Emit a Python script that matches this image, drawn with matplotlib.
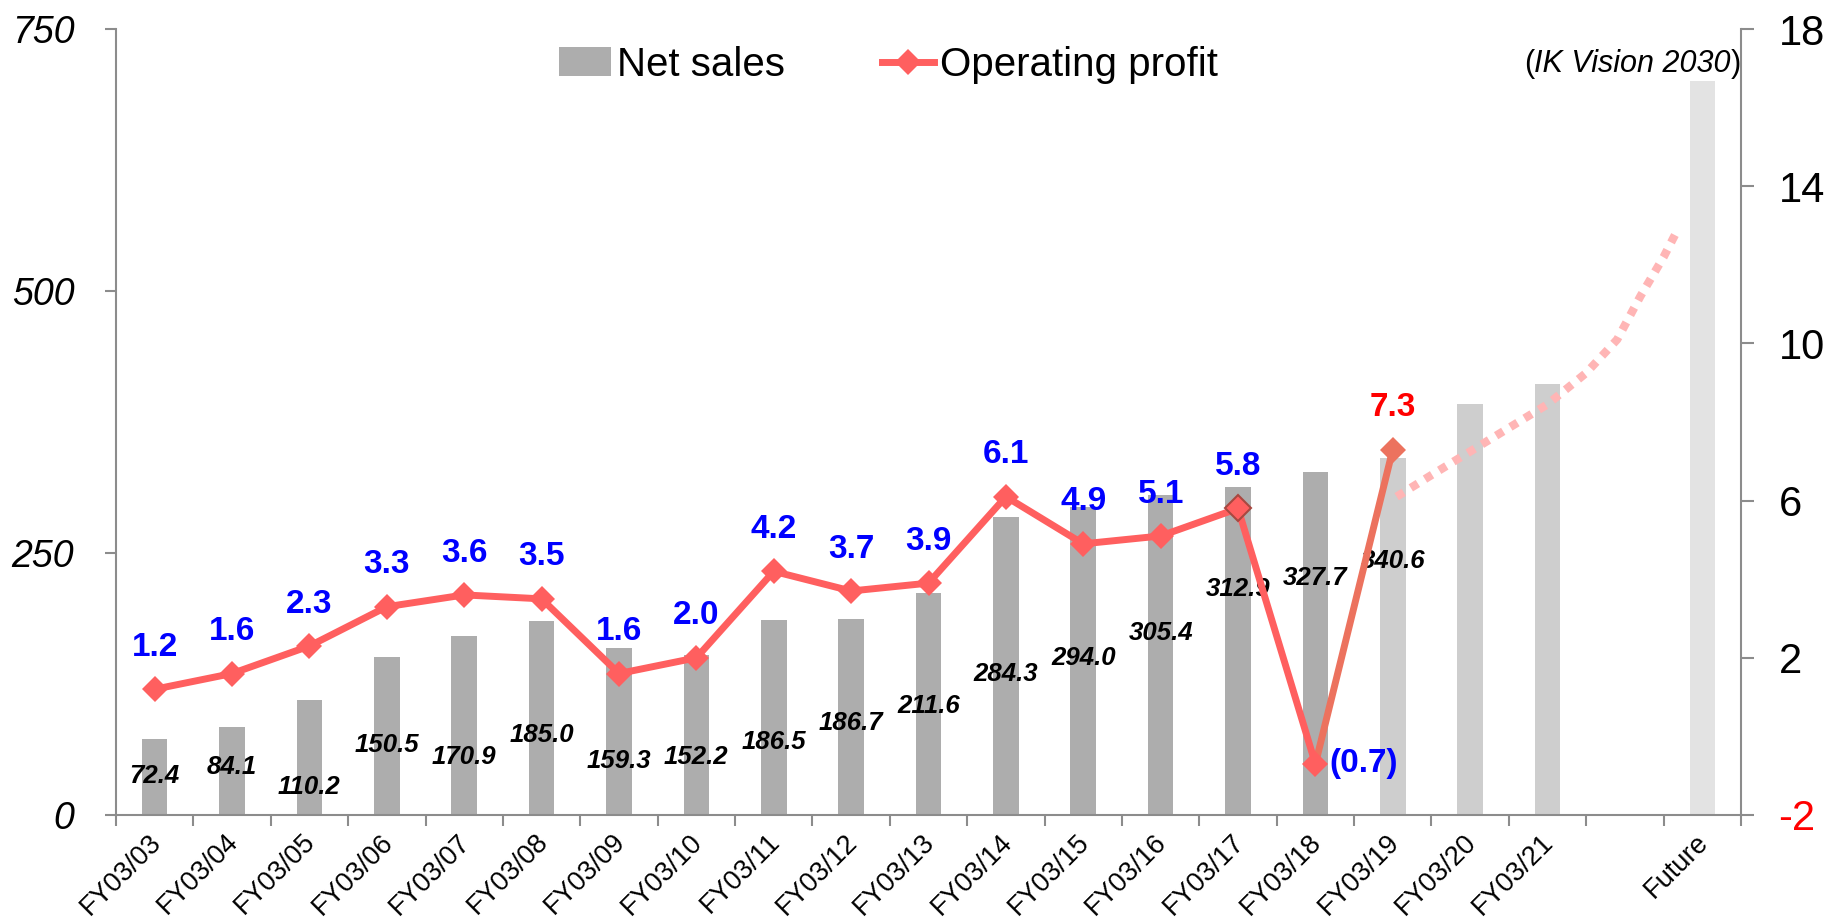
import matplotlib
matplotlib.use("Agg")
import matplotlib.pyplot as plt
import matplotlib.transforms as mtransforms
from matplotlib.text import Annotation
import numpy as np
from matplotlib.lines import Line2D
from matplotlib.patches import Patch

plt.rcParams['font.family'] = ['Liberation Sans', 'DejaVu Sans']

# ---------------- data ----------------
categories = ['FY03/03', 'FY03/04', 'FY03/05', 'FY03/06', 'FY03/07', 'FY03/08',
              'FY03/09', 'FY03/10', 'FY03/11', 'FY03/12', 'FY03/13', 'FY03/14',
              'FY03/15', 'FY03/16', 'FY03/17', 'FY03/18', 'FY03/19', 'FY03/20',
              'FY03/21', '', 'Future']
net_sales = [72.4, 84.1, 110.2, 150.5, 170.9, 185.0, 159.3, 152.2, 186.5, 186.7,
             211.6, 284.3, 294.0, 305.4, 312.9, 327.7, 340.6, 392.0, 411.0, None, 700.0]
net_sales_labels = ['72.4', '84.1', '110.2', '150.5', '170.9', '185.0', '159.3', '152.2',
                    '186.5', '186.7', '211.6', '284.3', '294.0', '305.4', '312.9', '327.7',
                    '340.6']
# vertical placement of the sales value labels (left-axis units)
sales_label_pos = [37, 46, 27, 67, 55, 76, 52, 55, 70, 88, 104, 135, 150, 174, 216, 226, 242]
bar_kind = ['actual'] * 16 + ['plan'] * 3 + ['none', 'future']

op_profit = [1.2, 1.6, 2.3, 3.3, 3.6, 3.5, 1.6, 2.0, 4.2, 3.7, 3.9, 6.1, 4.9, 5.1, 5.8, -0.7, 7.3]
op_labels = ['1.2', '1.6', '2.3', '3.3', '3.6', '3.5', '1.6', '2.0', '4.2', '3.7', '3.9',
             '6.1', '4.9', '5.1', '5.8', '(0.7)', '7.3']

# forecast (dotted) curve: x in category index units
forecast_x = [16.05, 16.5, 17.0, 17.5, 18.0, 18.5, 18.9, 19.2, 19.5, 19.67]
forecast_y = [6.1, 6.65, 7.25, 7.85, 8.45, 9.25, 10.1, 11.2, 12.2, 12.85]

left_ticks = [0, 250, 500, 750]
right_ticks = [-2, 2, 6, 10, 14, 18]

# ---------------- styles ----------------
bar_colors = {'actual': '#ADADAD', 'plan': '#CECECE', 'future': '#E3E3E3', 'none': 'white'}
line_color = '#FF5F5F'
line2_color = '#EC725E'
axis_gray = '#8C8C8C'
LW = 5.0
MS = 13.5

fig = plt.figure(figsize=(18.36, 9.23), dpi=100)
ax = fig.add_axes([116/1836, 1-815/923, (1741-116)/1836, (815-29)/923])
ax2 = ax.twinx()

x = np.arange(len(categories))
bx = [i for i, v in enumerate(net_sales) if v is not None]
bv = [net_sales[i] for i in bx]
bc = [bar_colors[bar_kind[i]] for i in bx]
ax.bar(bx, bv, width=0.33, color=bc, zorder=2)

for i, (lab, pos) in enumerate(zip(net_sales_labels, sales_label_pos)):
    ax.text(i, pos, lab, ha='center', va='center', fontsize=18.5, fontweight='bold',
            fontstyle='italic', color='black', zorder=5)

ax.set_xlim(-0.5, len(categories) - 0.5)
ax.set_ylim(0, 750)
ax.set_yticks(left_ticks)
ax.set_yticklabels([str(t) for t in left_ticks], fontsize=27, fontstyle='italic')
ax.tick_params(axis='y', length=8, width=1.5, color=axis_gray, pad=22)

ax.set_xticks(x)
ax.set_xticklabels(categories, rotation=45, ha='right', va='top',
                   rotation_mode='anchor', fontsize=19.5)
ax.set_xticks(np.arange(-0.5, len(categories)), minor=True)
ax.tick_params(axis='x', which='major', length=0, pad=10)
ax.tick_params(axis='x', which='minor', length=8, width=1.5, color=axis_gray)
shift = mtransforms.ScaledTranslation(-7/100, 0, fig.dpi_scale_trans)
for lbl in ax.get_xticklabels():
    lbl.set_transform(lbl.get_transform() + shift)

for sp in ['top', 'right']:
    ax.spines[sp].set_visible(False)
ax.spines['left'].set_color(axis_gray)
ax.spines['left'].set_linewidth(1.5)
ax.spines['bottom'].set_color(axis_gray)
ax.spines['bottom'].set_linewidth(1.5)

# operating profit line
ax2.set_ylim(-2, 18)
ax2.set_yticks(right_ticks)
ax2.set_yticklabels([str(t) for t in right_ticks], fontsize=30)
ax2.get_yticklabels()[0].set_color('red')
ax2.tick_params(axis='y', length=9, width=1.5, color=axis_gray, pad=18)
for sp in ['top', 'left', 'bottom']:
    ax2.spines[sp].set_visible(False)
ax2.spines['right'].set_color(axis_gray)
ax2.spines['right'].set_linewidth(1.5)

ox = np.arange(len(op_profit))
ax2.plot(forecast_x, forecast_y, color='#FFB5B5', linewidth=6,
         linestyle=(0, (1, 1)), dash_capstyle='butt', zorder=3)
ax2.plot(ox[15:17], op_profit[15:17], color=line2_color, linewidth=LW, zorder=4)
ax2.plot(ox[:16], op_profit[:16], color=line_color, linewidth=LW, marker='D',
         markersize=MS, markeredgewidth=0, zorder=5)
ax2.plot([14], [op_profit[14]], marker='D', markersize=MS, color=line_color,
         markeredgecolor='#A84840', markeredgewidth=1.5, zorder=6, linestyle='none')
ax2.plot([16], [op_profit[16]], marker='D', markersize=MS, color=line2_color,
         markeredgewidth=0, zorder=6, linestyle='none')

for i, (v, lab) in enumerate(zip(op_profit, op_labels)):
    if v < 0:
        ax2.annotate(lab, (i, v), xytext=(10, 0), textcoords='offset points',
                     ha='left', va='center', fontsize=24, fontweight='bold',
                     color='#0000FF', zorder=7)
    else:
        col = '#FF0000' if i == 16 else '#0000FF'
        ax2.annotate(lab, (i, v), xytext=(0, 19), textcoords='offset points',
                     ha='center', va='bottom', fontsize=24, fontweight='bold',
                     color=col, zorder=7)

# legend
handles = [Patch(facecolor='#ADADAD', edgecolor='none'),
           Line2D([0], [0], color=line_color, linewidth=LW, marker='D',
                  markersize=MS, markeredgewidth=0)]
fig.legend(handles, ['Net sales', 'Operating profit'], loc='center',
           bbox_to_anchor=(0.484, 0.93), ncol=2, frameon=False, fontsize=29,
           handlelength=1.3, handletextpad=0.15, columnspacing=2.4)

# (IK Vision 2030) with italic inner text
rp = fig.text(1741/1836, 1-64/923, ')', ha='right', va='center', fontsize=22)
it = fig.add_artist(Annotation('IK Vision 2030', xy=(0, 0.5), xycoords=rp,
                               ha='right', va='center', fontsize=22, fontstyle='italic'))
fig.add_artist(Annotation('(', xy=(0, 0.5), xycoords=it, ha='right', va='center',
                          fontsize=22))

fig.savefig('out.png', dpi=100)
